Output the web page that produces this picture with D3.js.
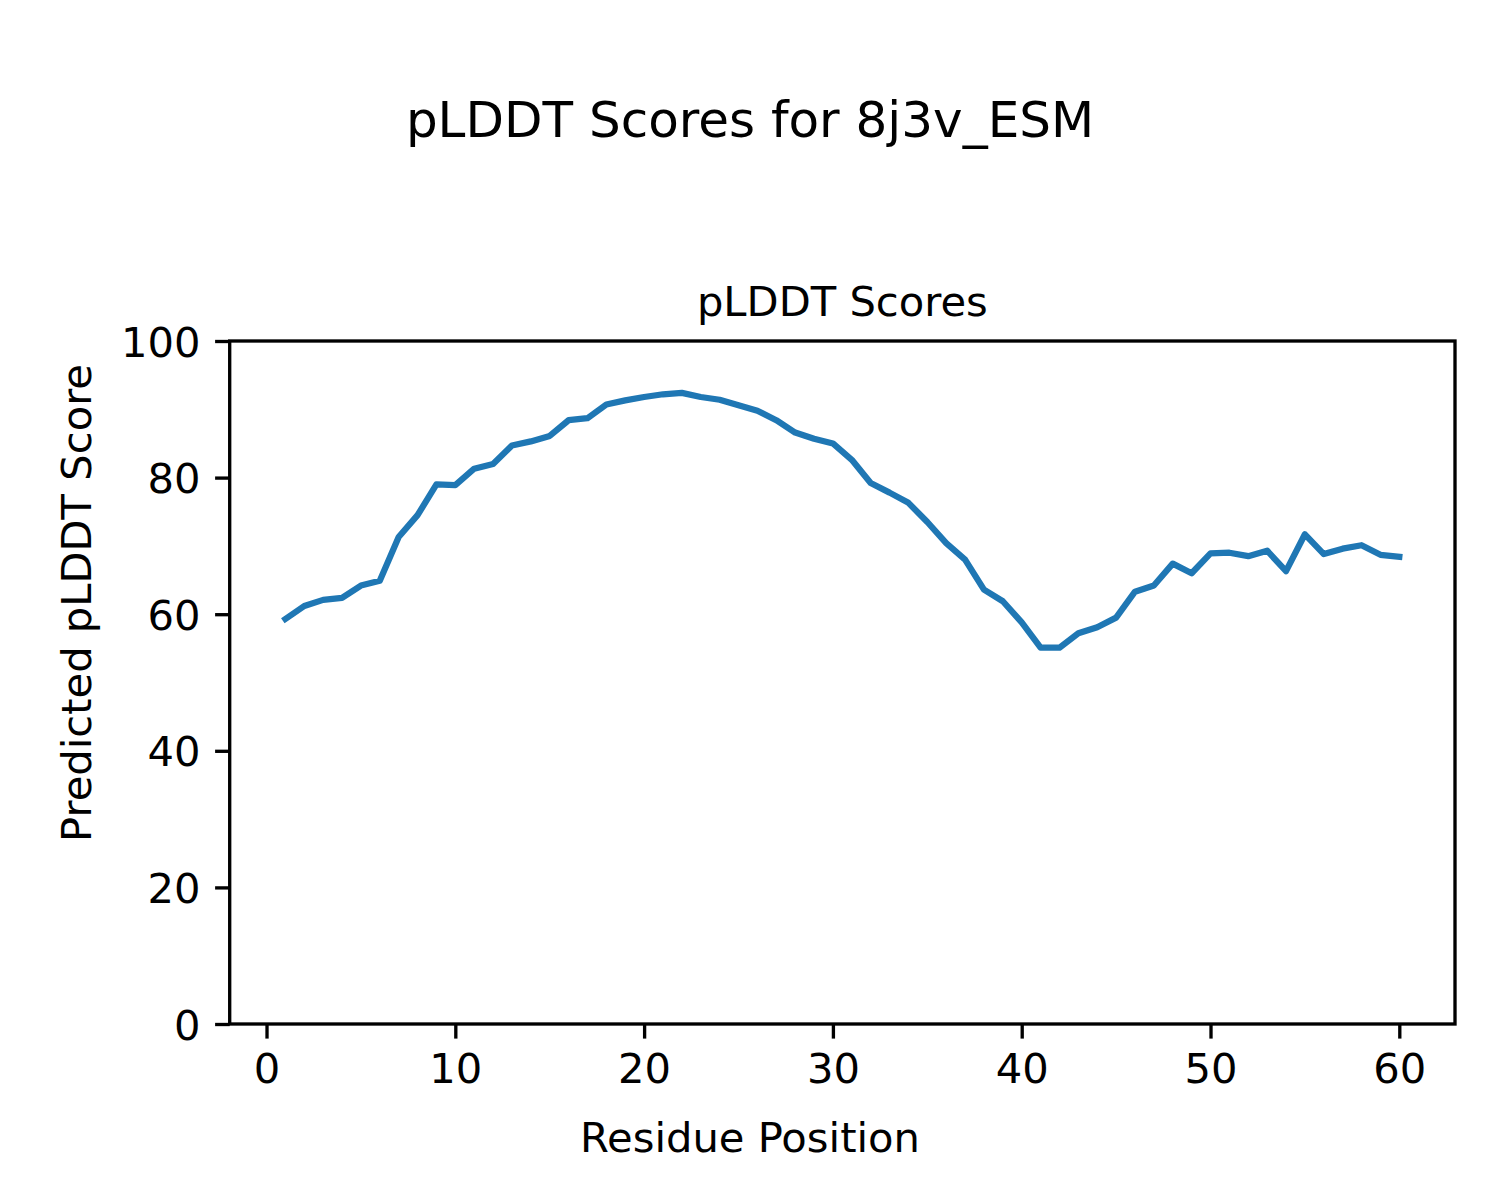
<!DOCTYPE html>
<html>
<head>
<meta charset="utf-8">
<script src="https://cdn.jsdelivr.net/npm/d3@7"></script>
<style>
  body { margin: 0; background: #fff; }
  text { font-family: "DejaVu Sans", sans-serif; fill: #000; }
</style>
</head>
<body>
<svg id="chart" width="1500" height="1200"></svg>
<script>
const residues = [1,2,3,4,5,6,7,8,9,10,11,12,13,14,15,16,17,18,19,20,
  21,22,23,24,25,26,27,28,29,30,31,32,33,34,35,36,37,38,39,40,
  41,42,43,44,45,46,47,48,49,50,51,52,53,54,55,56,57,58,59,60];
const scores = [59.3,61.2,62.1,62.4,64.2,64.9,71.3,74.5,79.0,78.9,
  81.3,82.0,84.7,85.3,86.1,88.4,88.7,90.7,91.3,91.8,
  92.2,92.4,91.8,91.4,90.6,89.8,88.4,86.6,85.7,85.0,
  82.6,79.2,77.8,76.3,73.5,70.4,68.0,63.6,61.9,58.8,
  55.1,55.1,57.2,58.1,59.5,63.3,64.2,67.4,66.0,68.9,
  69.0,68.5,69.3,66.3,71.7,68.8,69.6,70.1,68.7,68.4];
const xTicks = [0,10,20,30,40,50,60];
const yTicks = [0,20,40,60,80,100];
const figTitle = "pLDDT Scores for 8j3v_ESM";
const axTitle = "pLDDT Scores";
const xLabel = "Residue Position";
const yLabel = "Predicted pLDDT Score";

const svg = d3.select("#chart");
const L = 229.7, R = 1455, T = 341, B = 1024;
const fs = 41.67;
const tick = 14.6, pad = 14.6, lw = 3.33;

const xMin = 1, xMax = 60, m = (xMax - xMin) * 0.05;
const x = d3.scaleLinear().domain([xMin - m, xMax + m]).range([L, R]);
const y = d3.scaleLinear().domain([0, 100]).range([B, T]);

// line
const line = d3.line().x((d,i) => x(residues[i])).y(d => y(d));
svg.append("path").datum(scores)
  .attr("d", line)
  .attr("fill", "none")
  .attr("stroke", "#1f77b4")
  .attr("stroke-width", 6.25)
  .attr("stroke-linejoin", "round")
  .attr("stroke-linecap", "square");

// axes
const gx = svg.append("g").attr("transform", `translate(0,${B})`)
  .call(d3.axisBottom(x).tickValues(xTicks).tickFormat(d3.format("d"))
    .tickSizeOuter(0).tickSize(tick).tickPadding(pad));
const gy = svg.append("g").attr("transform", `translate(${L},0)`)
  .call(d3.axisLeft(y).tickValues(yTicks).tickFormat(d3.format("d"))
    .tickSizeOuter(0).tickSize(tick).tickPadding(pad));
[gx, gy].forEach(g => {
  g.select(".domain").remove();
  g.selectAll("line").attr("stroke", "#000").attr("stroke-width", lw);
  g.selectAll("text").attr("font-size", fs).attr("font-family", "DejaVu Sans").attr("fill", "#000");
});
gy.selectAll("text").attr("dy", "0.36em");

// frame
svg.append("rect").attr("x", L).attr("y", T).attr("width", R - L).attr("height", B - T)
  .attr("fill", "none").attr("stroke", "#000").attr("stroke-width", lw)
  .attr("stroke-linejoin", "miter");

// titles & labels
svg.append("text").attr("x", 750).attr("y", 137).attr("text-anchor", "middle")
  .attr("font-size", 50).text(figTitle);
svg.append("text").attr("x", (L + R) / 2).attr("y", 316).attr("text-anchor", "middle")
  .attr("font-size", fs).text(axTitle);
svg.append("text").attr("x", 750).attr("y", 1152).attr("text-anchor", "middle")
  .attr("font-size", fs).text(xLabel);
svg.append("text").attr("transform", "translate(91,603) rotate(-90)")
  .attr("text-anchor", "middle").attr("font-size", fs).text(yLabel);
</script>
</body>
</html>
